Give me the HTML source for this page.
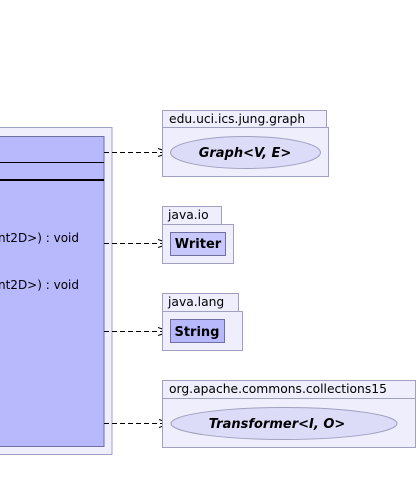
<!DOCTYPE html><html><head><style>body{margin:0;background:#fff}svg{display:block}text{font-family:"DejaVu Sans","Liberation Sans",sans-serif}</style></head><body>
<svg width="418" height="493" viewBox="0 0 418 493">
<rect x="-5" y="127.5" width="117" height="327" fill="#eeeefc" stroke="#a0a0c0"/>
<rect x="-5" y="136.5" width="109" height="310" fill="#b8b8fc" stroke="#7070a0"/>
<line x1="0" y1="162.5" x2="104" y2="162.5" stroke="#000"/>
<line x1="0" y1="180" x2="104" y2="180" stroke="#000" stroke-width="2"/>
<text x="79" y="242" font-size="12" text-anchor="end">nt2D&gt;) : void</text>
<text x="79" y="289" font-size="12" text-anchor="end">nt2D&gt;) : void</text>
<g stroke="#000" fill="none">
<line x1="104" y1="152.5" x2="170" y2="152.5" stroke-dasharray="5,3"/><path d="M158 148.5L170 152.5L158 156.5"/>
<line x1="104" y1="243.5" x2="170" y2="243.5" stroke-dasharray="5,3"/><path d="M158 239.5L170 243.5L158 247.5"/>
<line x1="104" y1="331.5" x2="170" y2="331.5" stroke-dasharray="5,3"/><path d="M158 327.5L170 331.5L158 335.5"/>
<line x1="104" y1="423.5" x2="171" y2="423.5" stroke-dasharray="5,3"/><path d="M159 419.5L171 423.5L159 427.5"/>
</g>
<g fill="#eeeefc" stroke="#a0a0c0">
<rect x="162.5" y="110.5" width="164" height="17"/><rect x="162.5" y="127.5" width="166" height="49"/>
<rect x="162.5" y="206.5" width="59" height="18"/><rect x="162.5" y="224.5" width="71" height="39"/>
<rect x="162.5" y="293.5" width="76" height="18"/><rect x="162.5" y="311.5" width="80" height="39"/>
<rect x="162.5" y="380.5" width="253" height="18"/><rect x="162.5" y="398.5" width="253" height="49"/>
</g>
<ellipse cx="245.5" cy="152.5" rx="75" ry="16" fill="#dcdcf8" stroke="#a0a0c0"/>
<ellipse cx="284" cy="423.5" rx="113" ry="16" fill="#dcdcf8" stroke="#a0a0c0"/>
<rect x="170.5" y="232.5" width="55" height="23" fill="#c8c8fc" stroke="#7070a0"/>
<rect x="170.5" y="319.5" width="54" height="23" fill="#b8b8fc" stroke="#7070a0"/>
<g font-size="12.3">
<text x="169" y="123">edu.uci.ics.jung.graph</text>
<text x="168" y="219">java.io</text>
<text x="168" y="306">java.lang</text>
<text x="169" y="393">org.apache.commons.collections15</text>
</g>
<g font-size="13" font-weight="bold" text-anchor="middle">
<text x="245" y="157" font-style="italic">Graph&lt;V, E&gt;</text>
<text x="198" y="248">Writer</text>
<text x="197" y="336">String</text>
<text x="277" y="428" font-style="italic">Transformer&lt;I, O&gt;</text>
</g>
</svg></body></html>
